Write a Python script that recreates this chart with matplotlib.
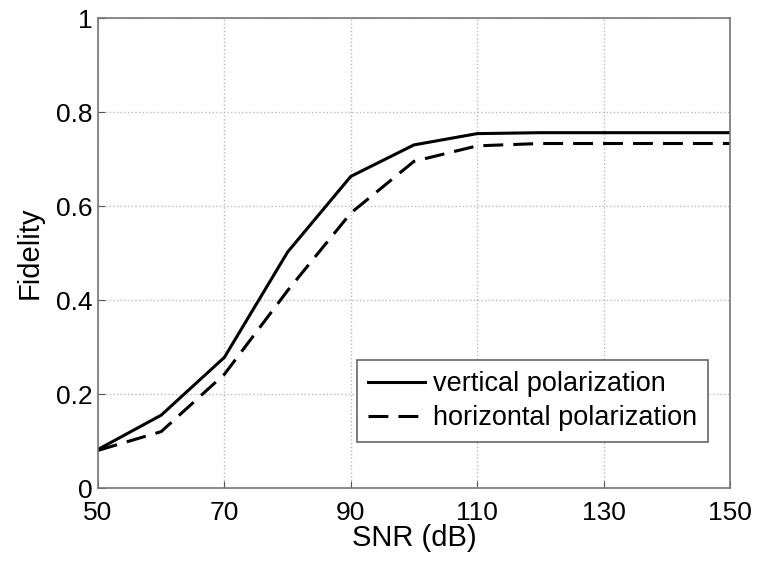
import numpy as np
import matplotlib.pyplot as plt

plt.rcParams['font.family'] = ['Liberation Sans', 'DejaVu Sans']

snr = [50, 60, 70, 80, 90, 100, 110, 120, 130, 140, 150]
fid_vertical = [0.082, 0.155, 0.278, 0.502, 0.663, 0.730, 0.754, 0.756, 0.756, 0.756, 0.756]
fid_horizontal = [0.080, 0.120, 0.242, 0.420, 0.585, 0.695, 0.728, 0.733, 0.733, 0.733, 0.733]

xticks = [50, 70, 90, 110, 130, 150]
yticks = [0, 0.2, 0.4, 0.6, 0.8, 1]
ytick_labels = ['0', '0.2', '0.4', '0.6', '0.8', '1']

fig = plt.figure( figsize=(7.59, 5.63), dpi=100 )
ax = fig.add_axes( [98/759, 1 - 488/563, (730-98)/759, (488-18)/563] )

ax.plot( snr, fid_vertical, color='black', lw=2.2, ls='-', label='vertical polarization' )
ax.plot( snr, fid_horizontal, color='black', lw=2.2, ls=(0, (6.5, 3.3)), label='horizontal polarization' )

ax.set_xlim( 50, 150 )
ax.set_ylim( 0, 1 )
ax.set_xticks( xticks )
ax.set_yticks( yticks )
ax.set_yticklabels( ytick_labels )
ax.tick_params( direction='in', labelsize=19, length=5, color='#555555' )
ax.tick_params( axis='x', pad=9 )
ax.tick_params( axis='y', pad=4 )
ax.grid( True, ls=':', color='#bbbbbb', lw=1 )
for s in ax.spines.values():
    s.set_color( '#777777' )
    s.set_linewidth( 1.2 )

ax.set_xlabel( 'SNR (dB)', fontsize=21, labelpad=0 )
ax.set_ylabel( 'Fidelity', fontsize=21, labelpad=9 )

leg = ax.legend( loc='lower right', bbox_to_anchor=(0.965, 0.098), borderaxespad=0,
                 fontsize=19.5, fancybox=False, framealpha=1, edgecolor='#666666',
                 handlelength=2.1, borderpad=0.4, labelspacing=0.3, handletextpad=0.3 )
leg.get_frame().set_linewidth( 1.2 )

fig.savefig( 'out.png', dpi=100 )
